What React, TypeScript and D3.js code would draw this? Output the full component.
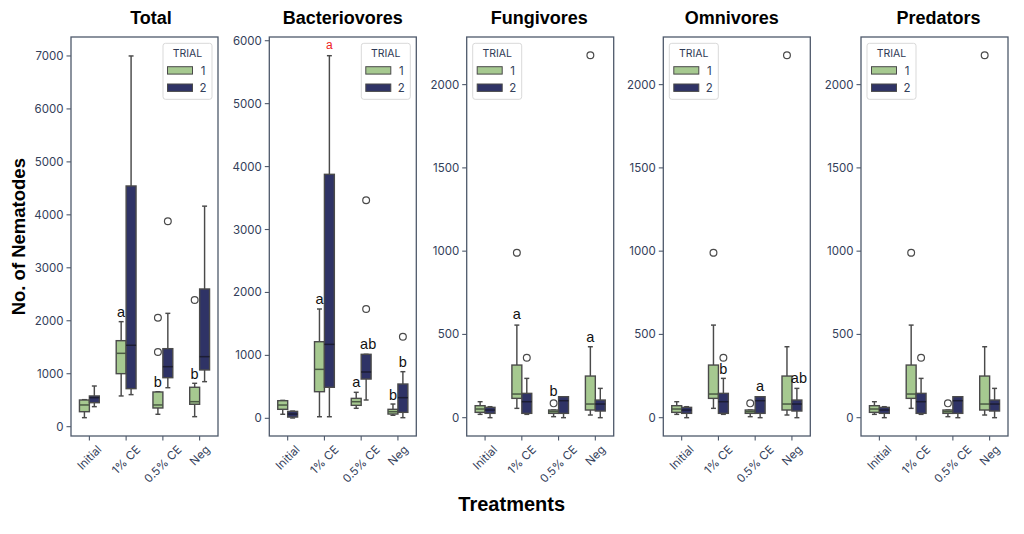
import { scaleLinear, scaleBand } from "d3"

const CATEGORIES = ["Initial", "1% CE", "0.5% CE", "Neg"]
const TRIALS = ["1", "2"]

// box stats per category: [whiskerLow, q1, median, q3, whiskerHigh]
const TOTAL_T1 = [[170, 283, 410, 504, 510], [580, 1001, 1385, 1624, 1983], [234, 353, 410, 655, 660], [189, 423, 472, 744, 819]]
const TOTAL_T2 = [[378, 453, 548, 580, 768], [605, 718, 1537, 4545, 7000], [736, 925, 1133, 1473, 2140], [850, 1071, 1322, 2600, 4164]]
const TOTAL_T1_OUT = [[], [], [2058, 1410], [2392]]
const TOTAL_T2_OUT = [[], [], [3880], []]

const BACT_T1 = [[64, 143, 211, 280, 285], [25, 423, 778, 1217, 1737], [159, 206, 264, 317, 413], [48, 68, 105, 143, 227]]
const BACT_T2 = [[5, 20, 68, 110, 115], [25, 493, 1175, 3877, 5762], [291, 624, 736, 1017, 1017], [10, 95, 328, 545, 741]]
const BACT_T1_OUT = [[], [], [], []]
const BACT_T2_OUT = [[], [], [1737, 3464], [1297]]

const FUNGI_T1 = [[20, 32, 52, 72, 96], [56, 116, 142, 316, 556], [6, 26, 36, 46, 46], [16, 46, 82, 250, 426]]
const FUNGI_T2 = [[0, 26, 46, 62, 66], [20, 26, 96, 146, 236], [0, 26, 102, 126, 126], [0, 40, 82, 106, 176]]
const FUNGI_T1_OUT = [[], [990], [86], [2176]]
const FUNGI_T2_OUT = [[], [360], [], []]

// omnivores and predators read the same as fungivores in the figure
const OMNI_T1 = FUNGI_T1, OMNI_T2 = FUNGI_T2, OMNI_T1_OUT = FUNGI_T1_OUT, OMNI_T2_OUT = FUNGI_T2_OUT
const PRED_T1 = FUNGI_T1, PRED_T2 = FUNGI_T2, PRED_T1_OUT = FUNGI_T1_OUT, PRED_T2_OUT = FUNGI_T2_OUT

const TOTAL_TICKS = [0, 1000, 2000, 3000, 4000, 5000, 6000, 7000]
const BACT_TICKS = [0, 1000, 2000, 3000, 4000, 5000, 6000]
const SMALL_TICKS = [0, 500, 1000, 1500, 2000]

// letters: [category index, trial index, value (baseline), label]
const TOTAL_LETTERS: [number, number, number, string][] = [[1, 0, 2066, "a"], [2, 0, 755, "b"], [3, 0, 900, "b"]]
const BACT_LETTERS: [number, number, number, string][] = [[1, 0, 1812, "a"], [2, 0, 493, "a"], [2, 1, 1096, "ab"], [3, 0, 291, "b"], [3, 1, 820, "b"]]
const BACT_RED_LETTERS: [number, number, number, string][] = [[1, 1, 5864, "a"]]
const FUNGI_LETTERS: [number, number, number, string][] = [[1, 0, 590, "a"], [2, 0, 132, "b"], [3, 0, 456, "a"]]
const OMNI_LETTERS: [number, number, number, string][] = [[1, 1, 260, "b"], [2, 1, 160, "a"], [3, 1, 206, "ab"]]

const COLORS = ["#a6c990", "#2f3366"]
const EDGE = "#4a4a4a"
const FRAME = "#4e596b"
const TICK_TXT = "#33405a"
const TICK_FONT = "Inter, 'Open Sans', sans-serif"
const BOLD_FONT = "'Liberation Sans', Arial, sans-serif"

const TOP = 37, BOTTOM = 436, PW = 147

let ctx: CanvasRenderingContext2D | null = null
function textW(s: string, font: string) {
  if (!ctx) ctx = document.createElement("canvas").getContext("2d")
  if (!ctx) return s.length * 6
  ctx.font = font
  return ctx.measureText(s).width
}

type Stats = number[][]
type Letters = [number, number, number, string][]

interface PanelProps {
  title: string
  left: number
  titleDx: number
  domain: [number, number]
  ticks: number[]
  t1: Stats
  t2: Stats
  o1: number[][]
  o2: number[][]
  letters: Letters
  redLetters?: Letters
  legendRight: boolean
}

function Panel({ title, left, titleDx, domain, ticks, t1, t2, o1, o2, letters, redLetters = [], legendRight }: PanelProps) {
  const y = scaleLinear().domain(domain).range([BOTTOM, TOP])
  const x = scaleBand().domain(CATEGORIES).range([left, left + PW]).padding(0)
  const bw = x.bandwidth()
  const boxW = bw * 0.27
  const cx = (ci: number, ti: number) => x(CATEGORIES[ci])! + bw / 2 + (ti === 0 ? -boxW / 2 : boxW / 2)

  const lgW = 49, lgH = 56
  const lgX = legendRight ? left + PW - 6 - lgW : left + 6
  const lgY = TOP + 6.3

  const renderBox = (s: number[], ci: number, ti: number) => {
    const c = cx(ci, ti)
    const [lo, q1, med, q3, hi] = s
    const capW = boxW * 0.5
    return (
      <g key={`b${ci}-${ti}`}>
        <line x1={c} x2={c} y1={y(q3)} y2={y(hi)} stroke={EDGE} strokeWidth={1.45} />
        <line x1={c} x2={c} y1={y(q1)} y2={y(lo)} stroke={EDGE} strokeWidth={1.45} />
        <line x1={c - capW / 2} x2={c + capW / 2} y1={y(hi)} y2={y(hi)} stroke={EDGE} strokeWidth={1.45} />
        <line x1={c - capW / 2} x2={c + capW / 2} y1={y(lo)} y2={y(lo)} stroke={EDGE} strokeWidth={1.45} />
        <rect x={c - boxW / 2} y={y(q3)} width={boxW} height={Math.max(y(q1) - y(q3), 0.5)}
          fill={COLORS[ti]} stroke={EDGE} strokeWidth={1.4} />
        <line x1={c - boxW / 2} x2={c + boxW / 2} y1={y(med)} y2={y(med)} stroke={ti === 0 ? "#4a5a44" : "#1c1d33"} strokeWidth={1.5} />
      </g>
    )
  }

  return (
    <g>
      <text x={left + PW / 2 + titleDx} y={24} textAnchor="middle" fontFamily={BOLD_FONT}
        fontWeight="bold" fontSize={18} fill="#000">{title}</text>

      {/* boxes */}
      {t1.map((s, i) => renderBox(s, i, 0))}
      {t2.map((s, i) => renderBox(s, i, 1))}

      {/* fliers */}
      {[o1, o2].map((os, ti) => os.map((vals, ci) => vals.map((v, k) => (
        <circle key={`o${ti}-${ci}-${k}`} cx={cx(ci, ti)} cy={y(v)} r={3.4}
          fill="none" stroke={EDGE} strokeWidth={1.2} />
      ))))}

      {/* letters */}
      {letters.map(([ci, ti, v, lab], i) => (
        <text key={`l${i}`} x={cx(ci, ti) + (lab.length > 1 ? 2 : 0)} y={y(v)} textAnchor="middle"
          fontFamily={BOLD_FONT} fontSize={14.5} fill="#111">{lab}</text>
      ))}
      {redLetters.map(([ci, ti, v, lab], i) => (
        <text key={`r${i}`} x={cx(ci, ti)} y={y(v)} textAnchor="middle"
          fontFamily={BOLD_FONT} fontSize={12} fill="#ee2222">{lab}</text>
      ))}

      {/* frame */}
      <rect x={left} y={TOP} width={PW} height={BOTTOM - TOP} fill="none" stroke={FRAME} strokeWidth={1.3} />

      {/* y axis */}
      {ticks.map(t => (
        <g key={`y${t}`}>
          <line x1={left - 4.5} x2={left} y1={y(t)} y2={y(t)} stroke={FRAME} strokeWidth={1.1} />
          <text x={left - 7.5} y={y(t)} textAnchor="end" dominantBaseline="central"
            fontFamily={TICK_FONT} fontSize={11.5} fill={TICK_TXT}>{t}</text>
        </g>
      ))}

      {/* x axis */}
      {CATEGORIES.map(c => {
        const tx = x(c)! + bw / 2
        const fs = 11.5
        const w = textW(c, `${fs}px ${TICK_FONT}`)
        const h = fs * 0.74
        const cy = BOTTOM + 8.5 + (w + h) / (2 * Math.SQRT2)
        return (
          <g key={`x${c}`}>
            <line x1={tx} x2={tx} y1={BOTTOM} y2={BOTTOM + 4.5} stroke={FRAME} strokeWidth={1.1} />
            <text x={tx} y={cy} textAnchor="middle" dominantBaseline="central"
              transform={`rotate(-45,${tx},${cy})`}
              fontFamily={TICK_FONT} fontSize={fs} fill={TICK_TXT}>{c}</text>
          </g>
        )
      })}

      {/* legend */}
      <g transform={`translate(${lgX},${lgY})`}>
        <rect width={lgW} height={lgH} rx={2.5} fill="#fff" fillOpacity={0.85} stroke="#d9d9d9" strokeWidth={1} />
        <text x={lgW / 2} y={10} textAnchor="middle" dominantBaseline="central"
          fontFamily={TICK_FONT} fontSize={10.5} fill="#2f3a55">TRIAL</text>
        {TRIALS.map((t, i) => (
          <g key={t} transform={`translate(4.5,${23.4 + i * 17.3})`}>
            <rect width={25} height={7.4} fill={COLORS[i]} stroke={EDGE} strokeWidth={1} />
            <text x={35.5} y={3.8} textAnchor="middle" dominantBaseline="central"
              fontFamily={TICK_FONT} fontSize={11.5} fill={TICK_TXT}>{t}</text>
          </g>
        ))}
      </g>
    </g>
  )
}

export default function App() {
  return (
    <svg width={1024} height={534} style={{ position: "absolute", left: 0, top: 0, background: "#fff" }}>
      <rect width={1024} height={534} fill="#fff" />
      <Panel title="Total" left={71} titleDx={6.5} domain={[-176, 7358]} ticks={TOTAL_TICKS}
        t1={TOTAL_T1} t2={TOTAL_T2} o1={TOTAL_T1_OUT} o2={TOTAL_T2_OUT} letters={TOTAL_LETTERS} legendRight />
      <Panel title="Bacteriovores" left={269.3} titleDx={0} domain={[-281, 6059]} ticks={BACT_TICKS}
        t1={BACT_T1} t2={BACT_T2} o1={BACT_T1_OUT} o2={BACT_T2_OUT} letters={BACT_LETTERS}
        redLetters={BACT_RED_LETTERS} legendRight />
      <Panel title="Fungivores" left={466.7} titleDx={-1} domain={[-110, 2286]} ticks={SMALL_TICKS}
        t1={FUNGI_T1} t2={FUNGI_T2} o1={FUNGI_T1_OUT} o2={FUNGI_T2_OUT} letters={FUNGI_LETTERS} legendRight={false} />
      <Panel title="Omnivores" left={663.3} titleDx={-5} domain={[-110, 2286]} ticks={SMALL_TICKS}
        t1={OMNI_T1} t2={OMNI_T2} o1={OMNI_T1_OUT} o2={OMNI_T2_OUT} letters={OMNI_LETTERS} legendRight={false} />
      <Panel title="Predators" left={861} titleDx={4} domain={[-110, 2286]} ticks={SMALL_TICKS}
        t1={PRED_T1} t2={PRED_T2} o1={PRED_T1_OUT} o2={PRED_T2_OUT} letters={[]} legendRight={false} />

      <text transform={`translate(25,236.7) rotate(-90)`} textAnchor="middle" fontFamily={BOLD_FONT}
        fontWeight="bold" fontSize={18.5} fill="#000">No. of Nematodes</text>
      <text x={511.7} y={511} textAnchor="middle" fontFamily={BOLD_FONT}
        fontWeight="bold" fontSize={20} fill="#000">Treatments</text>
    </svg>
  )
}
